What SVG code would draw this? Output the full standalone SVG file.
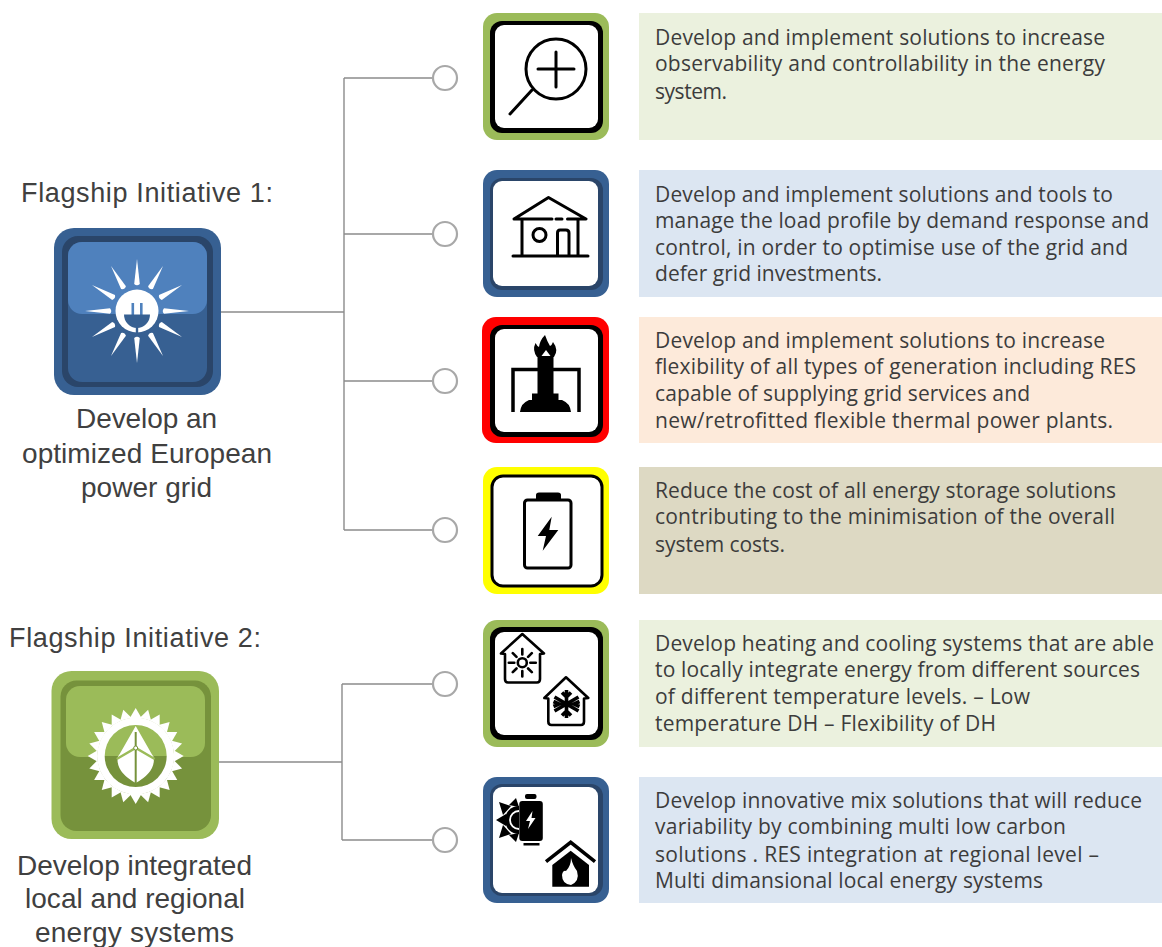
<svg xmlns="http://www.w3.org/2000/svg" width="1162" height="947" viewBox="0 0 1162 947">
<style>
.lt{font-family:"Liberation Sans",Arial,sans-serif;font-size:27px;fill:#404040}
.lb{font-size:28px}
.rt{font-family:"Open Sans","Noto Sans",sans-serif;font-size:21px;fill:#3c3c3c}
.c{fill:none;stroke:#8c8c8c;stroke-width:1.4}
.dot{fill:#fff;stroke:#a8a8a8;stroke-width:2.2}
.ink{fill:none;stroke:#000;stroke-width:3;stroke-linecap:round;stroke-linejoin:round}
.ink2{fill:none;stroke:#000;stroke-width:2.6;stroke-linecap:round;stroke-linejoin:round}
.wh{fill:#fff}
.g{fill:#9BBB59}.b{fill:#376092}.r{fill:#f00}.y{fill:#ff0}
</style>
<defs>
<path id="ray" d="M27,-2.800 L52,0 L27,2.800 Q24.500,0 27,-2.800Z" fill="#fff"/>
<path id="tooth" d="M38,-5.800 L48,0 L38,5.800Z" fill="#fff"/>
</defs>
<rect width="1162" height="947" fill="#fff"/>

<g id="connectors">
<path class="c" d="M221,312H344M344,78V530M344,78H433M344,234H433M344,381H433M344,530H433"/>
<path class="c" d="M219,762H342M342,684V840M342,684H433M342,840H433"/>
</g>

<g id="flagship1">
<text class="lt" x="21" y="202" textLength="252">Flagship Initiative 1:</text>
<rect x="54" y="228" width="167" height="167" rx="20" fill="#376092"/>
<rect x="62" y="236" width="151" height="151" rx="16" fill="#2A4569"/>
<rect x="68" y="242" width="139" height="140" rx="14" fill="#376092"/>
<path d="M68,256a14,14 0 0 1 14,-14H193a14,14 0 0 1 14,14V300a14,14 0 0 1 -14,14H82a14,14 0 0 1 -14,-14Z" fill="#4F81BD"/>
<g transform="translate(137 311)">
<use href="#ray"/><use href="#ray" transform="rotate(30)"/><use href="#ray" transform="rotate(60)"/><use href="#ray" transform="rotate(90)"/><use href="#ray" transform="rotate(120)"/><use href="#ray" transform="rotate(150)"/><use href="#ray" transform="rotate(180)"/><use href="#ray" transform="rotate(210)"/><use href="#ray" transform="rotate(240)"/><use href="#ray" transform="rotate(270)"/><use href="#ray" transform="rotate(300)"/><use href="#ray" transform="rotate(330)"/>
<circle r="21.500" fill="#fff"/>
<rect x="-5.500" y="-8" width="2.600" height="12" fill="#4F81BD"/><rect x="3" y="-8" width="2.600" height="12" fill="#4F81BD"/>
<path d="M-13,3.500H13A13,13.500 0 0 1 -13,3.500Z" fill="#376092"/>
<rect x="-1.200" y="15" width="2.400" height="7" fill="#376092"/>
</g>
<text class="lt lb" x="76" y="428" textLength="141">Develop an</text>
<text class="lt lb" x="22" y="463" textLength="250">optimized European</text>
<text class="lt lb" x="81" y="497" textLength="131">power grid</text>
</g>

<g id="flagship2">
<text class="lt" x="9" y="647" textLength="252">Flagship Initiative 2:</text>
<rect x="51.500" y="671" width="167.500" height="168" rx="20" fill="#9BBB59"/>
<rect x="60.500" y="680.500" width="150.500" height="150.500" rx="16" fill="#76923C"/>
<path d="M66,700a14,14 0 0 1 14,-14H191a14,14 0 0 1 14,14V743a14,14 0 0 1 -14,14H80a14,14 0 0 1 -14,-14Z" fill="#9BBB59"/>
<g transform="translate(135.700 756)">
<use href="#tooth"/><use href="#tooth" transform="rotate(15)"/><use href="#tooth" transform="rotate(30)"/><use href="#tooth" transform="rotate(45)"/><use href="#tooth" transform="rotate(60)"/><use href="#tooth" transform="rotate(75)"/><use href="#tooth" transform="rotate(90)"/><use href="#tooth" transform="rotate(105)"/><use href="#tooth" transform="rotate(120)"/><use href="#tooth" transform="rotate(135)"/><use href="#tooth" transform="rotate(150)"/><use href="#tooth" transform="rotate(165)"/><use href="#tooth" transform="rotate(180)"/><use href="#tooth" transform="rotate(195)"/><use href="#tooth" transform="rotate(210)"/><use href="#tooth" transform="rotate(225)"/><use href="#tooth" transform="rotate(240)"/><use href="#tooth" transform="rotate(255)"/><use href="#tooth" transform="rotate(270)"/><use href="#tooth" transform="rotate(285)"/><use href="#tooth" transform="rotate(300)"/><use href="#tooth" transform="rotate(315)"/><use href="#tooth" transform="rotate(330)"/><use href="#tooth" transform="rotate(345)"/>
<circle r="38.500" fill="#fff"/>
<path d="M-31,0A31,31 0 0 1 31,0Z" fill="#9BBB59"/>
<path d="M-31,0A31,31 0 0 0 31,0Z" fill="#76923C"/>
<path d="M0,-30 L16,-2 L18,1 Q20,16 0,27 Q-20,16 -18,1 L-16,-2Z" fill="#fff"/>
<path d="M-19,3 L0,-8 L19,3" fill="none" stroke="#9BBB59" stroke-width="2.400"/>
<path d="M0,-24V28" stroke="#76923C" stroke-width="2"/>
<circle cy="-8" r="2" fill="#fff" stroke="#76923C"/>
</g>
<text class="lt lb" x="17" y="875" textLength="235">Develop integrated</text>
<text class="lt lb" x="25" y="908" textLength="220">local and regional</text>
<text class="lt lb" x="35" y="942" textLength="199">energy systems</text>
</g>

<g id="item1">
<circle class="dot" cx="445" cy="78" r="12"/>
<rect class="g" x="483" y="13" width="126" height="127" rx="14"/>
<rect x="490" y="21" width="113" height="112" rx="12" fill="#000"/>
<rect class="wh" x="495" y="25" width="103" height="103" rx="9"/>
<circle class="ink" cx="556" cy="69" r="30"/>
<path class="ink" d="M538,69H574M556,52V87M532,90L510,114"/>
<rect x="639" y="13" width="523" height="127" fill="#EBF1DE"/>
<text class="rt" x="655" y="45" textLength="450">Develop and implement solutions to increase</text>
<text class="rt" x="655" y="71" textLength="450">observability and controllability in the energy</text>
<text class="rt" x="655" y="99" textLength="72">system.</text>
</g>

<g id="item2">
<circle class="dot" cx="445" cy="234" r="12"/>
<rect class="b" x="483" y="170" width="126" height="127" rx="14"/>
<rect x="490" y="178" width="113" height="112" rx="12" fill="#2A4569"/>
<rect class="wh" x="493" y="181" width="105" height="105" rx="9"/>
<path class="ink" d="M552,219H514L548.500,197.500L586,219H567.500M556,219H562M522,220V256M578,220V256M513,256H588M557.500,256V233Q557.500,230 560,230H566Q569,230 569,233V256"/>
<circle class="ink" cx="539.500" cy="235" r="6.500"/>
<rect x="639" y="170" width="523" height="127" fill="#DCE6F2"/>
<text class="rt" x="655" y="202" textLength="458">Develop and implement solutions and tools to</text>
<text class="rt" x="655" y="228" textLength="494">manage the load profile by demand response and</text>
<text class="rt" x="655" y="255" textLength="473">control, in order to optimise use of the grid and</text>
<text class="rt" x="655" y="281" textLength="227">defer grid investments.</text>
</g>

<g id="item3">
<circle class="dot" cx="445" cy="381" r="12"/>
<rect class="r" x="482" y="317" width="127" height="126" rx="14"/>
<rect x="490" y="325" width="113" height="112" rx="12" fill="#000"/>
<rect class="wh" x="495" y="329" width="103" height="103" rx="9"/>
<path d="M513,412V369.500H579V412" fill="none" stroke="#000" stroke-width="3.500"/>
<path d="M537.500,357H553.500V393.500H558.500V400H562Q570,403 571,412H520Q521,403 529,400H532V393.500H537.500Z" fill="#000"/>
<path d="M537,357Q532,350 535.500,343Q537,346 539,347Q540,340 545,335Q547,341 550,346Q552,345 553,342Q559,350 554,357Z" fill="#000"/>
<path d="M541.500,356L546,350L550.500,356Z" fill="#fff"/>
<rect x="639" y="317" width="523" height="126" fill="#FDEADA"/>
<text class="rt" x="655" y="348" textLength="450">Develop and implement solutions to increase</text>
<text class="rt" x="655" y="374" textLength="481">flexibility of all types of generation including RES</text>
<text class="rt" x="655" y="401" textLength="375">capable of supplying grid services and</text>
<text class="rt" x="655" y="428" textLength="458">new/retrofitted flexible thermal power plants.</text>
</g>

<g id="item4">
<circle class="dot" cx="445" cy="530" r="12"/>
<rect class="y" x="483" y="467" width="126" height="127" rx="14"/>
<rect x="492" y="476" width="110" height="110" rx="11" fill="#fff" stroke="#000" stroke-width="3"/>
<rect class="ink" x="524.500" y="500" width="46.500" height="68" rx="3"/>
<path d="M536,500V495Q536,492.500 539,492.500H558Q561,492.500 561,495V500Z" fill="#000"/>
<path d="M551.700,516.700L537.700,536H546L542.700,550.700L558.300,530H549.300Z" fill="#000"/>
<rect x="639" y="467" width="523" height="127" fill="#DDD9C3"/>
<text class="rt" x="655" y="498" textLength="461">Reduce the cost of all energy storage solutions</text>
<text class="rt" x="655" y="524" textLength="460">contributing to the minimisation of the overall</text>
<text class="rt" x="655" y="552" textLength="130">system costs.</text>
</g>

<g id="item5">
<circle class="dot" cx="445" cy="684" r="12"/>
<rect class="g" x="483" y="620" width="126" height="127" rx="14"/>
<rect x="490" y="627" width="113" height="113" rx="12" fill="#000"/>
<rect class="wh" x="495" y="632" width="103" height="103" rx="9"/>
<path class="ink2" d="M522.300,634L501,653.500L505,654V679Q505,682.500 508,682.500H537Q540,682.500 540,679V654L544,653.500Z"/>
<circle class="ink2" cx="522.300" cy="662.700" r="4.500"/>
<path class="ink2" d="M522.300,649V654.500M522.300,671V676.500M508.800,662.700H514.300M530.300,662.700H535.800M512.800,653.200L516.500,656.900M528.100,668.500L531.800,672.200M531.800,653.200L528.100,656.900M516.500,668.500L512.800,672.200"/>
<path class="ink2" d="M566,677.300L544.300,698L548.300,698.500V721.500Q548.300,725 551.500,725H581Q584,725 584,721.500V698.500L588.300,698Z"/>
<path d="M566.500,690V718M554.500,697L578.500,711M578.500,697L554.500,711M562,692.500L566.500,697L571,692.500M562,715.500L566.500,711L571,715.500M553.500,701.500L559,704L553.500,706.500M579.500,701.500L574,704L579.500,706.500" fill="none" stroke="#000" stroke-width="3.600"/>
<rect x="639" y="620" width="523" height="127" fill="#EBF1DE"/>
<text class="rt" x="655" y="651" textLength="499">Develop heating and cooling systems that are able</text>
<text class="rt" x="655" y="677" textLength="485">to locally integrate energy from different sources</text>
<text class="rt" x="655" y="704" textLength="375">of different temperature levels. – Low</text>
<text class="rt" x="655" y="731" textLength="341">temperature DH – Flexibility of DH</text>
</g>

<g id="item6">
<circle class="dot" cx="445" cy="840" r="12"/>
<rect class="b" x="483" y="777" width="126" height="126" rx="14"/>
<rect x="490" y="784" width="113" height="112" rx="12" fill="#2A4569"/>
<rect class="wh" x="493" y="787" width="105" height="106" rx="9"/>
<path d="M519,806A14,14 0 0 0 519,834Z" fill="#000"/>
<path d="M519,811A9,9 0 0 0 519,829" fill="none" stroke="#fff" stroke-width="1.800"/>
<path d="M496,820L506,814L506,826ZM499,802L511,806L503,815ZM499,838L511,834L503,825ZM516,798L519,807L509,805ZM516,842L519,833L509,835Z" fill="#000"/>
<rect x="519.300" y="801" width="23.500" height="40" rx="3" fill="#000"/>
<rect x="525" y="794" width="11.500" height="5" rx="2" fill="#000"/>
<rect x="523.500" y="843" width="16" height="2.500" fill="#000"/>
<path d="M532.500,811L526,821H530L528,829L535.500,818H531.500Z" fill="#fff"/>
<path d="M546,861.700L570.700,842.300L595,861.700" fill="none" stroke="#000" stroke-width="3.500"/>
<path d="M552.300,865L570.700,850.700L589,865V886.700H552.300Z" fill="#000"/>
<path d="M571,858Q573,866 577,871Q580,881 571,885Q562,884 562,875Q563,870 566,871Q571,866 571,858Z" fill="#fff"/>
<rect x="639" y="777" width="523" height="126" fill="#DCE6F2"/>
<text class="rt" x="655" y="808" textLength="487">Develop innovative mix solutions that will reduce</text>
<text class="rt" x="655" y="834" textLength="411">variability by combining multi low carbon</text>
<text class="rt" x="655" y="862" textLength="444">solutions . RES integration at regional level –</text>
<text class="rt" x="655" y="888" textLength="388">Multi dimansional local energy systems</text>
</g>
</svg>
